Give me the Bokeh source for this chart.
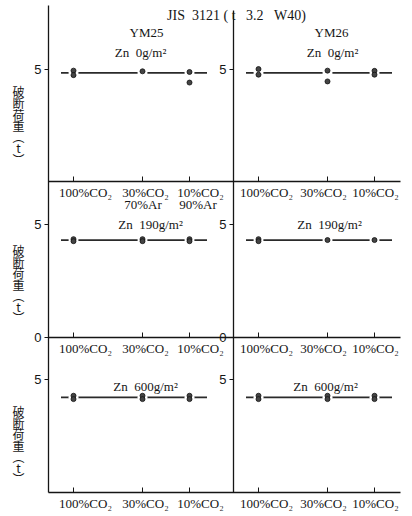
from bokeh.plotting import figure
from bokeh.models import ColumnDataSource, LinearAxis, FixedTicker, LabelSet, Range1d
from bokeh.core.properties import value
from bokeh.embed import file_html
from bokeh.resources import INLINE

# ---------------- data ----------------
title = "JIS\u00a0\u00a03121\u00a0(\u00a0t\u00a0\u00a0\u00a03.2\u00a0\u00a0\u00a0W40)"
specimens = ["YM25", "YM26"]
coatings = ["Zn\u00a0\u00a00g/m²", "Zn\u00a0\u00a0190g/m²", "Zn\u00a0\u00a0600g/m²"]
categories = ["100%CO₂", "30%CO₂", "10%CO₂"]
row1_second_line = ["", "70%Ar", "90%Ar"]
y_label_chars = ["破", "断", "荷", "重", "︵", "t", "︶"]
y_tick_values = [0, 5]

# breaking load (t): measured points per shielding gas
load_zn0_ym25 = [[4.93, 4.73], [4.90], [4.87, 4.40]]
load_zn0_ym26 = [[5.00, 4.75], [4.93, 4.45], [4.92, 4.75]]
load_zn190_ym25 = [[4.37, 4.28], [4.37, 4.28], [4.37, 4.28]]
load_zn190_ym26 = [[4.37, 4.28], [4.33], [4.33]]
load_zn600_ym25 = [[4.30, 4.15], [4.30, 4.15], [4.30, 4.15]]
load_zn600_ym26 = [[4.30, 4.15], [4.30, 4.15], [4.30, 4.15]]

# mean load lines (YM25, YM26)
mean_zn0 = [4.83, 4.83]
mean_zn190 = [4.33, 4.33]
mean_zn600 = [4.23, 4.23]

loads = [[load_zn0_ym25, load_zn0_ym26],
         [load_zn190_ym25, load_zn190_ym26],
         [load_zn600_ym25, load_zn600_ym26]]
means = [mean_zn0, mean_zn190, mean_zn600]

# ---------------- layout ----------------
X_START, X_END = -1.92, 14.56       # 25 px per unit
Y_START, Y_END = -1.067, 21.867     # 22.5 px per unit
PANEL_W = 14.08
SPLIT = 7.4
CAT_X = [1.0, 3.76, 5.64]
ROW_BASE = [13.82, 6.89, 0.0]
AXIS_TOP = [21.64, 21.42]
LINE_PAD = (0.5, 0.7)
LABEL_DX = [[0.48, 0.12, 0.44], [0.32, -0.16, 0.04]]
YLAB_START = [4.0, 3.87, 3.6]
INK = "#151515"

p = figure(width=412, height=516, x_range=Range1d(X_START, X_END),
           y_range=Range1d(Y_START, Y_END),
           output_backend="svg", toolbar_location=None,
           x_axis_type=None, y_axis_type=None,
           min_border_left=0, min_border_right=0, min_border_top=0, min_border_bottom=0,
           outline_line_color=None, background_fill_color="white",
           border_fill_color="white")

# y axes (left panel and right panel)
y_ticks = []
y_over = {}
for r, base in enumerate(ROW_BASE):
    for t in y_tick_values:
        if t == 0 and r != 1:
            continue
        y_ticks.append(base + t)
        y_over[base + t] = str(t)

for loc, top in zip((0, SPLIT), AXIS_TOP):
    ax = LinearAxis(ticker=FixedTicker(ticks=y_ticks), major_label_overrides=y_over,
                    fixed_location=loc, bounds=(0, top),
                    major_tick_in=0, major_tick_out=4, minor_tick_line_color=None,
                    axis_line_color=INK, axis_line_width=1.3, major_tick_line_color=INK,
                    major_label_text_font="Liberation Sans", major_label_text_font_size="13px",
                    major_label_text_color=INK, major_label_standoff=3)
    p.add_layout(ax, "left")

# x axes (one per row bottom) - tick marks only; labels are drawn below
x_ticks = [c * SPLIT + x for c in range(2) for x in CAT_X]
for base in ROW_BASE:
    ax = LinearAxis(ticker=FixedTicker(ticks=x_ticks), fixed_location=base,
                    bounds=(0, PANEL_W), major_tick_in=5, major_tick_out=0,
                    minor_tick_line_color=None, axis_line_color=INK, axis_line_width=1.3,
                    major_tick_line_color=INK, major_label_text_color=None,
                    major_label_standoff=0)
    p.add_layout(ax, "below")

# data marks
seg = dict(x0=[], x1=[], y=[])
gap = dict(x=[], y=[])
dots = dict(x=[], y=[])
for r in range(3):
    base = ROW_BASE[r]
    for c in range(2):
        off = c * SPLIT
        m = means[r][c]
        seg["x0"].append(off + CAT_X[0] - LINE_PAD[0])
        seg["x1"].append(off + CAT_X[-1] + LINE_PAD[1])
        seg["y"].append(base + m)
        for i, vals in enumerate(loads[r][c]):
            gap["x"].append(off + CAT_X[i])
            gap["y"].append(base + m)
            for v in vals:
                dots["x"].append(off + CAT_X[i])
                dots["y"].append(base + v)

p.segment(x0="x0", x1="x1", y0="y", y1="y", source=ColumnDataSource(seg),
          line_color="#2a2a2a", line_width=1.7)
p.scatter(x="x", y="y", source=ColumnDataSource(gap), marker="circle", size=10,
          fill_color="white", line_color=None)
p.scatter(x="x", y="y", source=ColumnDataSource(dots), marker="circle", size=5,
          fill_color="#444444", line_color="#111111", line_width=0.8)

# category labels under each row axis
lab = dict(x=[], y=[], text=[])
for r in range(3):
    base = ROW_BASE[r]
    for c in range(2):
        off = c * SPLIT
        for i, cat in enumerate(categories):
            lab["x"].append(off + CAT_X[i] + LABEL_DX[c][i])
            lab["y"].append(base - 0.47)
            lab["text"].append(cat)
            if r == 0 and c == 0 and row1_second_line[i]:
                lab["x"].append(off + CAT_X[i] + LABEL_DX[c][i] - 0.1)
                lab["y"].append(base - 1.03)
                lab["text"].append(row1_second_line[i])
p.add_layout(LabelSet(x="x", y="y", text="text", source=ColumnDataSource(lab),
                      text_font=value("Liberation Serif"), text_font_size="13px",
                      text_color=INK, text_align="center", text_baseline="middle"))

# vertical Japanese axis titles
jl = dict(x=[], y=[], text=[])
for r, base in enumerate(ROW_BASE):
    for k, ch in enumerate(y_label_chars):
        jl["x"].append(-1.2)
        jl["y"].append(base + YLAB_START[r] - 0.5 * k)
        jl["text"].append(ch)
p.add_layout(LabelSet(x="x", y="y", text="text", source=ColumnDataSource(jl),
                      text_font=value("Noto Sans CJK JP"), text_font_size="12px",
                      text_color=INK, text_align="center", text_baseline="middle"))

# titles inside panels
serif = value("Liberation Serif")
p.text(x=[7.52], y=[21.2], text=[title], text_font=serif, text_font_size="14px",
       text_align="center", text_baseline="middle", text_color=INK)
p.text(x=[3.92, SPLIT + 3.92], y=[20.44, 20.44], text=specimens, text_font=serif,
       text_font_size="13px", text_align="center", text_baseline="middle", text_color=INK)
coat_rel_x = [[3.68, 3.96], [4.08, 3.84], [3.88, 3.68]]
coat_rel_y = [5.74, 5.02, 4.71]
cx, cy, ct = [], [], []
for r in range(3):
    for c in range(2):
        cx.append(c * SPLIT + coat_rel_x[r][c])
        cy.append(ROW_BASE[r] + coat_rel_y[r])
        ct.append(coatings[r])
p.text(x=cx, y=cy, text=ct, text_font=serif, text_font_size="13px",
       text_align="center", text_baseline="middle", text_color=INK)

open("out.html", "w").write(file_html(p, INLINE))
